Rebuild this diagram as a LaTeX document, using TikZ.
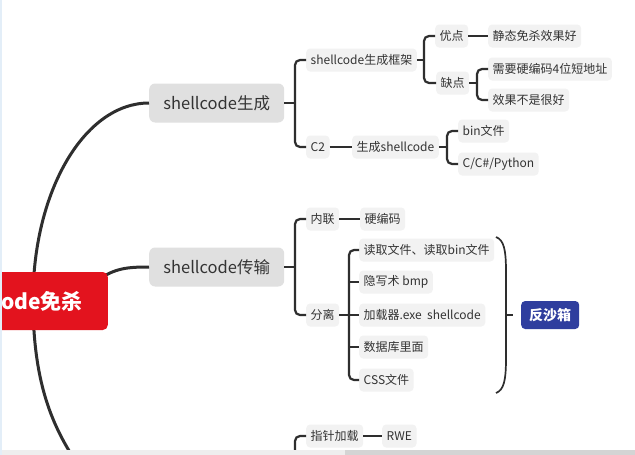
\documentclass[tikz,border=0pt]{standalone}
\usepackage{fontspec}
\setmainfont{Noto Sans CJK SC}
\definecolor{lineC}{HTML}{2E2E2E}
\definecolor{txtC}{HTML}{333333}
\definecolor{leafF}{HTML}{F2F2F2}
\definecolor{topicF}{HTML}{E0E0E0}
\definecolor{rootR}{HTML}{E3131E}
\definecolor{blueB}{HTML}{2F3E9E}
\definecolor{barL}{HTML}{EEEEEE}
\definecolor{barD}{HTML}{D4D4D4}
\definecolor{edgeB}{HTML}{E3EEF8}
\begin{document}
\begin{tikzpicture}[x=1pt,y=-1pt,
  conn/.style={draw=lineC, line width=2.2pt, rounded corners=5pt},
  mainconn/.style={draw=lineC, line width=3pt},
  leaf/.style={fill=leafF, rounded corners=4pt, inner xsep=4.5pt, inner ysep=0pt,
    minimum height=23pt, text=txtC, font=\fontsize{12}{14}\selectfont, anchor=west},
  topic/.style={fill=topicF, rounded corners=6pt, minimum width=135pt, minimum height=39pt,
    text=txtC, font=\fontsize{16.5}{19}\selectfont, anchor=west},
]
\useasboundingbox (0,0) rectangle (635,455);
\fill[white] (0,0) rectangle (635,455);

% main topics
\node[topic] (gen) at (149,103) {shellcode生成};
\node[topic] (trans) at (149,267) {shellcode传输};

% main curves
\coordinate (rc) at (33,300);
\coordinate (third) at (80,468);
\coordinate (rtr) at (98,280);
\draw[mainconn] (rc) .. controls (33,191) and (84.5,103) .. (gen.west);
\draw[mainconn] (rc) .. controls (33,390) and (56,432) .. (third);
\draw[mainconn] (rtr) .. controls (115,268) and (128,267) .. (trans.west);

% root
\node[fill=rootR, rounded corners=5pt, anchor=east, minimum height=58pt, inner xsep=25pt,
  text=white, font=\bfseries\fontsize{21}{24}\selectfont] (root) at (108,301) {shellcode免杀};

% ---- shellcode生成 branch
\node[leaf] (fw) at (306,60) {shellcode生成框架};
\node[leaf] (c2) at (306,147) {C2};
\coordinate (b1) at (295,103);
\draw[conn] (gen.east) -- (b1);
\draw[conn] (fw.west) -| (b1) |- (c2.west);

\node[leaf] (yd) at (435,36) {优点};
\node[leaf] (qd) at (436,83) {缺点};
\coordinate (b2) at (424,60);
\draw[conn] (fw.east) -- (b2);
\draw[conn] (yd.west) -| (b2) |- (qd.west);

\node[leaf] (jt) at (488,36) {静态免杀效果好};
\draw[conn] (yd.east) -- (jt.west);

\node[leaf] (xy) at (488,69) {需要硬编码4位短地址};
\node[leaf] (xg) at (488,100) {效果不是很好};
\coordinate (b3) at (477,83);
\draw[conn] (qd.east) -- (b3);
\draw[conn] (xy.west) -| (b3) |- (xg.west);

\node[leaf] (sc) at (352,147) {生成shellcode};
\draw[conn] (c2.east) -- (sc.west);
\node[leaf] (bin) at (458,131) {bin文件};
\node[leaf] (cpy) at (458,164) {C/C\#/Python};
\coordinate (b5) at (447,147);
\draw[conn] (sc.east) -- (b5);
\draw[conn] (bin.west) -| (b5) |- (cpy.west);

% ---- shellcode传输 branch
\node[leaf] (nl) at (306,219) {内联};
\node[leaf] (fl) at (306,315) {分离};
\coordinate (b6) at (295,267);
\draw[conn] (trans.east) -- (b6);
\draw[conn] (nl.west) -| (b6) |- (fl.west);

\node[leaf] (ybm) at (360,219) {硬编码};
\draw[conn] (nl.east) -- (ybm.west);

\node[leaf] (s1) at (359,250) {读取文件、读取bin文件};
\node[leaf] (s2) at (359,282) {隐写术 bmp};
\node[leaf] (s3) at (359,315) {加载器.exe\ \ shellcode};
\node[leaf] (s4) at (359,347) {数据库里面};
\node[leaf] (s5) at (359,380) {CSS文件};
\coordinate (b7) at (349,315);
\draw[conn] (fl.east) -- (b7);
\draw[conn] (s1.west) -| (b7) |- (s5.west);
\draw[conn] (b7 |- s2.west) -- (s2.west);
\draw[conn] (b7) -- (s3.west);
\draw[conn] (b7 |- s4.west) -- (s4.west);

% big parenthesis and anti-sandbox
\coordinate (pt) at (496,237);
\coordinate (pb) at (496,393);
\coordinate (pm) at (506,315);
\coordinate (pe) at (513,315);
\draw[draw=lineC, line width=1.7pt] (pt) .. controls (504,240) and (506,250) .. (506,272)
  -- (506,358) .. controls (506,380) and (504,390) .. (pb);
\draw[draw=lineC, line width=1.7pt] (pm) -- (pe);
\node[fill=blueB, rounded corners=4pt, anchor=west, minimum width=58pt, minimum height=28pt,
  inner sep=0pt, text=white, font=\bfseries\fontsize{14}{16}\selectfont] (anti) at (521,315) {反沙箱};

% ---- third branch (partly visible)
\node[leaf] (zz) at (306,436) {指针加载};
\node[leaf] (rwe) at (382,436) {RWE};
\coordinate (b8) at (295,470);
\draw[conn] (zz.west) -| (b8);
\draw[conn] (zz.east) -- (rwe.west);

% screen edges
\fill[barL] (0,450) rectangle (635,455);
\fill[barD] (345,450) rectangle (635,455);
\fill[edgeB] (0,0) rectangle (2,455);
\end{tikzpicture}
\end{document}
